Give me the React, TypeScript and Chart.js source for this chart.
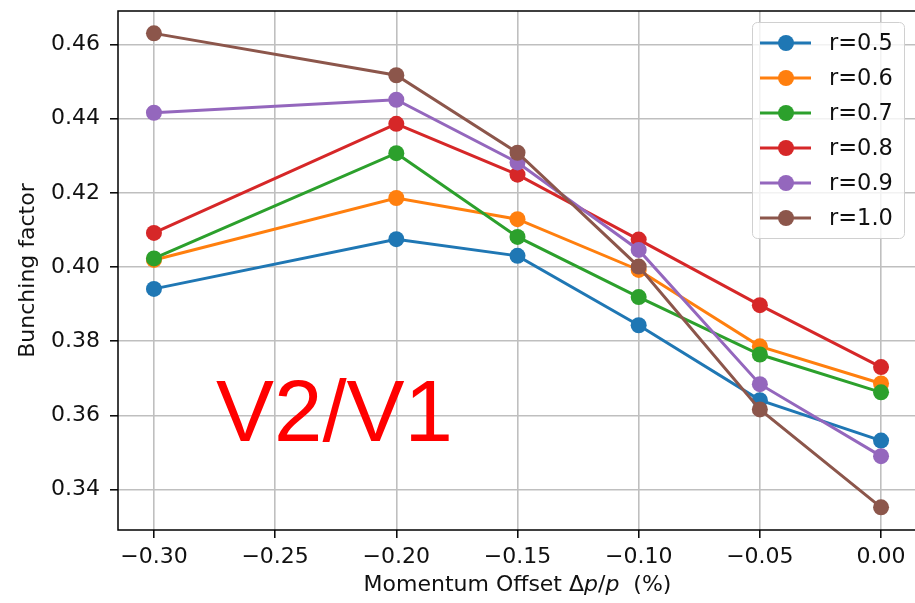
import React, { useEffect, useRef } from 'react';
import { Chart, registerables } from 'chart.js';

Chart.register(...registerables);

// ---- data ----
const X_VALUES = [-0.3, -0.2, -0.15, -0.1, -0.05, 0.0];
const R05 = [0.3941, 0.4075, 0.403, 0.3843, 0.3641, 0.3532];
const R06 = [0.4019, 0.4186, 0.4129, 0.3992, 0.3786, 0.3686];
const R07 = [0.4023, 0.4307, 0.4081, 0.3919, 0.3764, 0.3662];
const R08 = [0.4092, 0.4386, 0.4249, 0.4074, 0.3897, 0.373];
const R09 = [0.4416, 0.4451, 0.4282, 0.4046, 0.3684, 0.349];
const R10 = [0.463, 0.4517, 0.4308, 0.4001, 0.3616, 0.3352];
const SERIES_VALUES = [R05, R06, R07, R08, R09, R10];
const SERIES_LABELS = ['r=0.5', 'r=0.6', 'r=0.7', 'r=0.8', 'r=0.9', 'r=1.0'];
const SERIES_COLORS = ['#1f77b4', '#ff7f0e', '#2ca02c', '#d62728', '#9467bd', '#8c564b'];
const X_TICKS = [-0.3, -0.25, -0.2, -0.15, -0.1, -0.05, 0.0];
const Y_TICKS = [0.34, 0.36, 0.38, 0.4, 0.42, 0.44, 0.46];
const X_TITLE_PARTS = [
  { text: 'Momentum Offset Δ', italic: false },
  { text: 'p', italic: true },
  { text: '/', italic: false },
  { text: 'p', italic: true },
  { text: '  (%)', italic: false },
];
const Y_TITLE = 'Bunching factor';
const ANNOTATION = 'V2/V1';

const FONT = "'DejaVu Sans', sans-serif";
const TEXT_COLOR = '#111111';

const fmtX = (v: number) => {
  const s = Math.abs(v).toFixed(2);
  return v < -1e-9 ? '\u2212' + s : s;
};

const framePlugin = {
  id: 'frameAndExtras',
  afterDatasetsDraw(chart: any) {
    const { ctx, chartArea } = chart;
    ctx.save();
    ctx.strokeStyle = '#000';
    ctx.lineWidth = 1.5;
    ctx.strokeRect(chartArea.left, chartArea.top, chartArea.right - chartArea.left, chartArea.bottom - chartArea.top);
    ctx.fillStyle = '#ff0000';
    ctx.font = "87px 'Liberation Sans', Arial, sans-serif";
    ctx.textAlign = 'left';
    ctx.textBaseline = 'alphabetic';
    ctx.fillText(ANNOTATION, 216, 441);
    ctx.restore();
  },
  afterDraw(chart: any) {
    const { ctx, chartArea } = chart;
    ctx.save();
    const size = 22;
    const fontFor = (it: boolean) => `${it ? 'italic ' : ''}${size}px ${FONT}`;
    let total = 0;
    const widths = X_TITLE_PARTS.map((p) => {
      ctx.font = fontFor(p.italic);
      const w = ctx.measureText(p.text).width;
      total += w;
      return w;
    });
    let x = (chartArea.left + chartArea.right) / 2 - total / 2;
    ctx.fillStyle = TEXT_COLOR;
    ctx.textBaseline = 'middle';
    ctx.textAlign = 'left';
    X_TITLE_PARTS.forEach((p, i) => {
      ctx.font = fontFor(p.italic);
      ctx.fillText(p.text, x, 585);
      x += widths[i];
    });

    const bx = 752, by = 22, bw = 152, bh = 216;
    ctx.beginPath();
    (ctx as any).roundRect(bx + 0.5, by + 0.5, bw, bh, 5);
    ctx.fillStyle = 'rgba(255,255,255,0.8)';
    ctx.fill();
    ctx.strokeStyle = '#d0d0d0';
    ctx.lineWidth = 1;
    ctx.stroke();
    ctx.font = `22.5px ${FONT}`;
    ctx.textBaseline = 'middle';
    SERIES_LABELS.forEach((lab, i) => {
      const cy = 43 + i * 35;
      ctx.strokeStyle = SERIES_COLORS[i];
      ctx.lineWidth = 3;
      ctx.beginPath();
      ctx.moveTo(760, cy);
      ctx.lineTo(811, cy);
      ctx.stroke();
      ctx.fillStyle = SERIES_COLORS[i];
      ctx.beginPath();
      ctx.arc(786, cy, 8, 0, Math.PI * 2);
      ctx.fill();
      ctx.fillStyle = TEXT_COLOR;
      ctx.fillText(lab, 829, cy + 1);
    });
    ctx.restore();
  },
};

export default function App() {
  const ref = useRef<HTMLCanvasElement | null>(null);

  useEffect(() => {
    if (!ref.current) return;
    const datasets = SERIES_VALUES.map((vals, i) => ({
      label: SERIES_LABELS[i],
      data: X_VALUES.map((x, j) => ({ x, y: vals[j] })),
      borderColor: SERIES_COLORS[i],
      backgroundColor: SERIES_COLORS[i],
      pointBackgroundColor: SERIES_COLORS[i],
      pointBorderWidth: 0,
      pointRadius: 8,
      borderWidth: 3,
      tension: 0,
      order: SERIES_VALUES.length - 1 - i,
    }));

    const chart = new Chart(ref.current, {
      type: 'line',
      data: { datasets },
      plugins: [framePlugin],
      options: {
        animation: false,
        responsive: false,
        devicePixelRatio: 1,
        layout: { padding: { top: 11, right: 7, left: 0, bottom: 0 } },
        plugins: {
          legend: { display: false },
          tooltip: { enabled: false },
        },
        scales: {
          x: {
            type: 'linear',
            min: -0.314835,
            max: 0.014835,
            afterBuildTicks: (scale: any) => {
              scale.ticks = X_TICKS.map((v) => ({ value: v }));
            },
            afterFit: (scale: any) => {
              scale.height = 73;
              scale.paddingLeft = 0;
              scale.paddingRight = 0;
            },
            border: { display: false },
            grid: {
              color: '#bfbfbf',
              lineWidth: 1.6,
              drawTicks: true,
              tickLength: 8,
              tickColor: '#000',
              tickWidth: 1.5,
            },
            ticks: {
              padding: 6,
              color: TEXT_COLOR,
              font: { family: FONT, size: 22 },
              maxRotation: 0,
              autoSkip: false,
              callback: (v: any) => fmtX(Number(v)),
            },
            title: { display: false },
          },
          y: {
            type: 'linear',
            min: 0.32908,
            max: 0.46903,
            afterBuildTicks: (scale: any) => {
              scale.ticks = Y_TICKS.map((v) => ({ value: v }));
            },
            afterFit: (scale: any) => {
              scale.width = 118;
              scale.paddingTop = 0;
              scale.paddingBottom = 0;
            },
            border: { display: false },
            grid: {
              color: '#bfbfbf',
              lineWidth: 1.6,
              drawTicks: true,
              tickLength: 8,
              tickColor: '#000',
              tickWidth: 1.5,
            },
            ticks: {
              padding: 10,
              color: TEXT_COLOR,
              font: { family: FONT, size: 22 },
              autoSkip: false,
              callback: (v: any) => Number(v).toFixed(2),
            },
            title: {
              display: true,
              text: Y_TITLE,
              color: TEXT_COLOR,
              font: { family: FONT, size: 22 },
              padding: { top: 15, bottom: 0 },
            },
          },
        },
      } as any,
    });
    return () => chart.destroy();
  }, []);

  return (
    <div style={{ position: 'absolute', left: 0, top: 0, width: 915, height: 603, overflow: 'hidden', background: '#fff' }}>
      <canvas ref={ref} width={925} height={603} style={{ width: 925, height: 603, display: 'block' }} />
    </div>
  );
}
